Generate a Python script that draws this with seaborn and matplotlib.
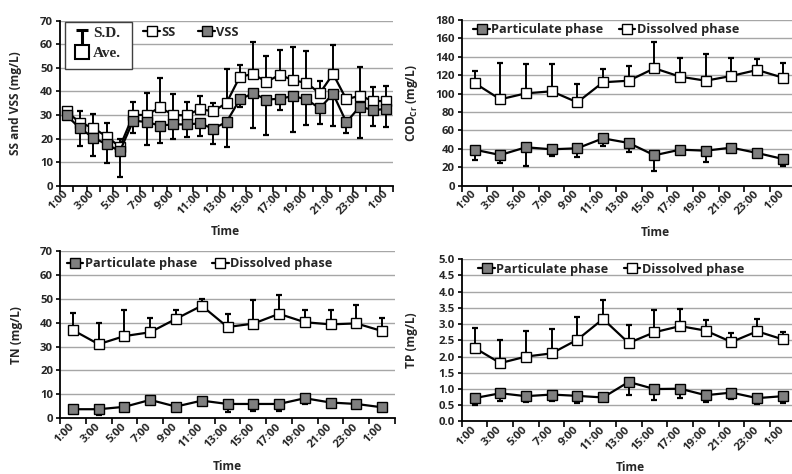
import numpy as np
import pandas as pd
import matplotlib
matplotlib.use("Agg")
import matplotlib.pyplot as plt
import seaborn as sns
from matplotlib.lines import Line2D
from matplotlib.patches import Rectangle
from matplotlib.ticker import FixedLocator, MultipleLocator, FormatStrFormatter

# ---------------- data ----------------
hour_labels = ["1:00", "2:00", "3:00", "4:00", "5:00", "6:00", "7:00", "8:00", "9:00",
               "10:00", "11:00", "12:00", "13:00", "14:00", "15:00", "16:00", "17:00",
               "18:00", "19:00", "20:00", "21:00", "22:00", "23:00", "0:00", "1:00"]
two_hour_labels = ["1:00", "3:00", "5:00", "7:00", "9:00", "11:00", "13:00", "15:00",
                   "17:00", "19:00", "21:00", "23:00", "1:00"]

ss = [31.5, 26.7, 24.5, 20.8, 16.5, 30.0, 30.0, 33.2, 30.0, 29.8, 32.5, 31.5, 35.1,
      46.2, 47.4, 44.0, 47.1, 44.7, 43.6, 39.2, 47.4, 36.6, 38.2, 35.9, 35.9]
ss_sd = [1.0, 5.0, 5.8, 5.6, 3.4, 5.4, 9.5, 12.3, 8.9, 5.7, 5.5, 3.4, 14.4,
         5.0, 13.6, 10.9, 10.5, 14.3, 13.5, 5.2, 12.1, 0.9, 12.3, 6.1, 6.4]
vss = [29.8, 24.3, 20.4, 17.5, 14.7, 27.6, 27.0, 25.5, 26.0, 26.0, 26.4, 24.2, 27.0,
       36.6, 39.2, 36.5, 36.9, 38.0, 36.6, 32.8, 39.0, 26.9, 33.5, 32.1, 32.5]
vss_sd = [1.5, 7.5, 7.8, 7.9, 11.0, 5.1, 9.7, 7.5, 6.3, 5.2, 5.3, 6.7, 10.7,
          3.4, 14.6, 14.9, 4.8, 15.1, 11.0, 6.5, 13.7, 4.6, 13.1, 6.8, 7.5]

cod_dis = [111.5, 93.8, 100.3, 102.5, 90.5, 112.3, 114.0, 127.5, 118.4, 114.0, 119.2, 125.7, 117.3]
cod_dis_sd = [13.1, 39.8, 32.2, 29.3, 20.0, 14.5, 15.7, 28.2, 20.6, 28.7, 19.2, 11.6, 15.6]
cod_par = [39.1, 33.3, 41.7, 39.5, 40.6, 51.4, 46.4, 33.0, 39.1, 38.0, 41.3, 35.5, 29.0]
cod_par_sd = [11.2, 8.3, 20.0, 6.9, 9.1, 7.9, 9.4, 16.7, 3.2, 12.3, 3.6, 2.5, 7.3]

tn_dis = [36.9, 31.0, 34.4, 36.0, 41.6, 47.1, 38.2, 39.6, 43.7, 40.2, 39.3, 39.7, 36.5]
tn_dis_sd = [7.2, 8.9, 11.1, 6.1, 3.6, 2.9, 5.5, 9.7, 7.7, 5.2, 6.1, 7.5, 5.6]
tn_par = [3.8, 3.8, 4.8, 7.7, 4.9, 7.4, 6.0, 6.0, 6.0, 8.4, 6.6, 6.0, 4.6]
tn_par_sd = [0.8, 2.4, 0.8, 1.5, 0.4, 1.9, 3.5, 3.0, 2.9, 2.4, 0.6, 0.5, 0.4]

tp_dis = [2.27, 1.80, 2.00, 2.10, 2.52, 3.16, 2.42, 2.75, 2.94, 2.80, 2.45, 2.78, 2.53]
tp_dis_sd = [0.62, 0.70, 0.78, 0.74, 0.70, 0.57, 0.54, 0.70, 0.54, 0.34, 0.29, 0.37, 0.23]
tp_par = [0.72, 0.87, 0.78, 0.83, 0.79, 0.74, 1.22, 1.00, 1.01, 0.81, 0.89, 0.72, 0.78]
tp_par_sd = [0.22, 0.24, 0.19, 0.21, 0.22, 0.04, 0.39, 0.34, 0.28, 0.22, 0.20, 0.17, 0.21]

# ---------------- style ----------------
sns.set_theme(style="white")
FONT = ["Open Sans", "DejaVu Sans"]
plt.rcParams["font.family"] = FONT
plt.rcParams["font.weight"] = "bold"
plt.rcParams["mathtext.fontset"] = "custom"
plt.rcParams["mathtext.rm"] = "Open Sans:bold"
plt.rcParams["mathtext.it"] = "Open Sans:bold"
plt.rcParams["mathtext.bf"] = "Open Sans:bold"

GRAY = "#7f7f7f"
GRID = "#a6a6a6"
TICK_FS = 8.2
LABEL_FS = 8.6
LEG_FS = 9.2

fig = plt.figure(figsize=(7.92, 4.74), dpi=100)
ax_ss = fig.add_axes([60 / 792, 0.6083, 333 / 792, 0.3481])
ax_cod = fig.add_axes([461.7 / 792, 0.6083, 334 / 792, 0.3496])
ax_tn = fig.add_axes([60 / 792, 0.1175, 335 / 792, 0.353])
ax_tp = fig.add_axes([461.7 / 792, 0.1108, 334 / 792, 0.3422])


def draw_series(ax, vals, sd, face, upper, name):
    df = pd.DataFrame({"pos": np.arange(len(vals)), "val": vals, "sd": sd})
    zeros = np.zeros(len(vals))
    yerr = [zeros, df["sd"].values] if upper else [df["sd"].values, zeros]
    ax.errorbar(df["pos"], df["val"], yerr=yerr, fmt="none", ecolor="black",
                elinewidth=1.4, capsize=2.3, capthick=1.6, zorder=2)
    sns.lineplot(data=df, x="pos", y="val", ax=ax, color="black", lw=1.6,
                 marker="s", markersize=6.5, markerfacecolor=face,
                 markeredgecolor="black", markeredgewidth=1.0, zorder=3,
                 label=name, legend=False)


def style_axes(ax, labels, shown_labels, step, ymax, ystep, ylabel, lab_x,
               time_xy, yfmt=None):
    n = len(labels)
    ax.set_xlim(-0.5, n - 0.5)
    ax.set_ylim(0, ymax)
    ax.yaxis.set_major_locator(MultipleLocator(ystep))
    if yfmt:
        ax.yaxis.set_major_formatter(FormatStrFormatter(yfmt))
    pos = np.arange(0, n, step)
    ax.xaxis.set_major_locator(FixedLocator(pos))
    ax.set_xticklabels(shown_labels)
    ax.xaxis.set_minor_locator(FixedLocator(np.arange(n + 1) - 0.5))
    ax.tick_params(axis="x", which="major", length=0, pad=5, labelsize=TICK_FS)
    ax.tick_params(axis="x", which="minor", length=4, width=1.2, color="black",
                   direction="out", bottom=True)
    ax.tick_params(axis="y", which="major", length=3, width=1.2, color="black",
                   direction="out", left=True, labelsize=TICK_FS, pad=2)
    for lab in ax.get_xticklabels():
        lab.set_rotation(45)
        lab.set_ha("right")
        lab.set_va("center")
        lab.set_rotation_mode("anchor")
        lab.set_fontweight("bold")
    for lab in ax.get_yticklabels():
        lab.set_fontweight("bold")
    ax.grid(axis="y", color=GRID, lw=1.0)
    ax.grid(axis="x", visible=False)
    ax.set_axisbelow(True)
    for s in ["top", "right"]:
        ax.spines[s].set_visible(False)
    for s in ["left", "bottom"]:
        ax.spines[s].set_color("black")
        ax.spines[s].set_linewidth(1.3)
    ax.spines["bottom"].set_zorder(5)
    ax.set_ylabel(ylabel, fontsize=LABEL_FS, fontweight="bold")
    ax.yaxis.set_label_coords(lab_x, 0.5)
    ax.set_xlabel("Time", fontsize=LABEL_FS, fontweight="bold")
    ax.xaxis.set_label_coords(*time_xy)
    ax.xaxis.label.set_va("center")


def legend_handle(face):
    return Line2D([0], [0], color="black", lw=1.6, marker="s", markersize=6.5,
                  markerfacecolor=face, markeredgecolor="black", markeredgewidth=1.0)


# ---- SS / VSS ----
draw_series(ax_ss, ss, ss_sd, "white", True, "SS")
draw_series(ax_ss, vss, vss_sd, GRAY, False, "VSS")
style_axes(ax_ss, hour_labels, hour_labels[::2], 2, 70, 10, "SS and VSS (mg/L)",
           -0.115, (0.495, -0.275))
ax_ss.legend([legend_handle("white"), legend_handle(GRAY)], ["SS", "VSS"],
             loc="center left", bbox_to_anchor=(0.25, 0.93), ncol=2, frameon=False,
             fontsize=LEG_FS, handlelength=1.3, handletextpad=0.1, columnspacing=1.8,
             borderpad=0, borderaxespad=0)
# S.D. / Ave. key box
tr = ax_ss.transAxes
ax_ss.add_patch(Rectangle((0.015, 0.705), 0.2, 0.285, transform=tr, fill=True,
                          facecolor="white", edgecolor="#404040", lw=1.0, zorder=6))
ax_ss.plot([0.047, 0.085], [0.942, 0.942], transform=tr, color="black", lw=2.2,
           zorder=7, solid_capstyle="butt")
ax_ss.plot([0.066, 0.066], [0.942, 0.845], transform=tr, color="black", lw=2.2,
           zorder=7, solid_capstyle="butt")
ax_ss.plot([0.066], [0.81], transform=tr, marker="s", markersize=10,
           markerfacecolor="white", markeredgecolor="black", markeredgewidth=1.5,
           zorder=7)
ax_ss.text(0.1, 0.92, "S.D.", transform=tr, fontsize=11, fontweight="bold",
           family=["Liberation Serif"], va="center", ha="left", zorder=8)
ax_ss.text(0.1, 0.8, "Ave.", transform=tr, fontsize=11, fontweight="bold",
           family=["Liberation Serif"], va="center", ha="left", zorder=8)

# ---- COD ----
draw_series(ax_cod, cod_dis, cod_dis_sd, "white", True, "Dissolved phase")
draw_series(ax_cod, cod_par, cod_par_sd, GRAY, False, "Particulate phase")
style_axes(ax_cod, two_hour_labels, two_hour_labels, 1, 180, 20,
           "COD$_{\\mathrm{Cr}}$ (mg/L)", -0.125, (0.58, -0.285))

# ---- TN ----
draw_series(ax_tn, tn_dis, tn_dis_sd, "white", True, "Dissolved phase")
draw_series(ax_tn, tn_par, tn_par_sd, GRAY, False, "Particulate phase")
style_axes(ax_tn, two_hour_labels, two_hour_labels, 1, 70, 10, "TN (mg/L)",
           -0.11, (0.5, -0.29))

# ---- TP ----
draw_series(ax_tp, tp_dis, tp_dis_sd, "white", True, "Dissolved phase")
draw_series(ax_tp, tp_par, tp_par_sd, GRAY, False, "Particulate phase")
style_axes(ax_tp, two_hour_labels, two_hour_labels, 1, 5.0, 0.5, "TP (mg/L)",
           -0.13, (0.505, -0.285), yfmt="%.1f")

for ax, xy in [(ax_cod, (0.035, 0.94)), (ax_tn, (0.02, 0.925)), (ax_tp, (0.05, 0.94))]:
    ax.legend([legend_handle(GRAY), legend_handle("white")],
              ["Particulate phase", "Dissolved phase"], loc="center left",
              bbox_to_anchor=xy, ncol=2, frameon=False, fontsize=LEG_FS,
              handlelength=1.3, handletextpad=0.1, columnspacing=1.2,
              borderpad=0, borderaxespad=0)

fig.savefig("out.png", dpi=100)
